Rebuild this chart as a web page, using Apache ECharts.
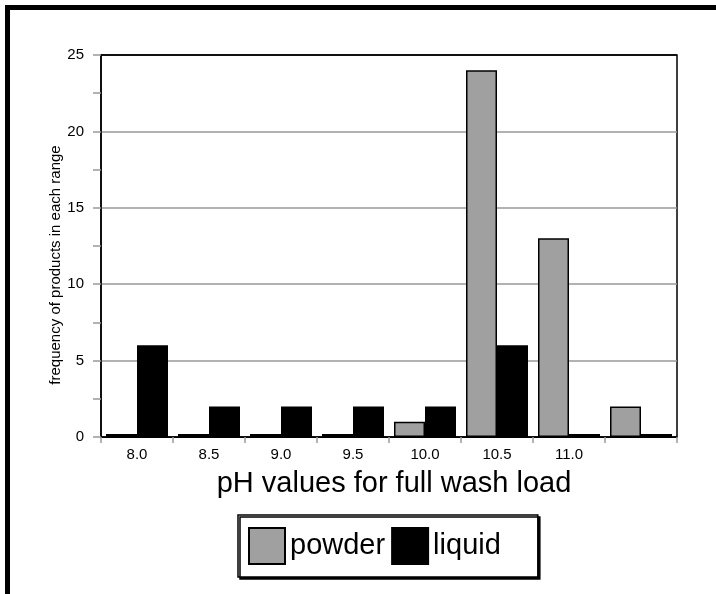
<!DOCTYPE html>
<html>
<head>
<meta charset="utf-8">
<script src="https://cdn.jsdelivr.net/npm/echarts@6/dist/echarts.min.js"></script>
<style>
  html, body { margin: 0; padding: 0; background: #fff; overflow: hidden; }
  .frame { position: absolute; left: 5px; top: 5px; width: 800px; height: 700px; border: 5px solid #000; }
  #chart { position: absolute; left: 0; top: 0; width: 716px; height: 594px; }
</style>
</head>
<body>
<div class="frame"></div>
<div id="chart"></div>
<script>
// pH ranges (last bin has no label in the original)
var categories = ['8.0', '8.5', '9.0', '9.5', '10.0', '10.5', '11.0', ''];
var powder = [0, 0, 0, 0, 1, 24, 13, 2];
var liquid = [6, 2, 2, 2, 2, 6, 0, 0];

var font = 'Liberation Sans, Arial, sans-serif';
var chart = echarts.init(document.getElementById('chart'));

var option = {
    animation: false,
    grid: {
        left: 101, top: 55, right: 39, bottom: 157,
        show: true,
        borderColor: '#000',
        borderWidth: 1.5
    },
    legend: {
        left: 238,
        top: 515,
        orient: 'horizontal',
        data: ['powder', 'liquid'],
        icon: 'rect',
        itemWidth: 36,
        itemHeight: 36,
        itemGap: 6,
        padding: [12, 37, 12, 10],
        backgroundColor: '#fff',
        borderColor: '#000',
        borderWidth: 1.5,
        shadowColor: '#000',
        shadowOffsetX: 2,
        shadowOffsetY: 2,
        shadowBlur: 0,
        textStyle: { fontFamily: font, fontSize: 29, color: '#000' }
    },
    xAxis: {
        type: 'category',
        data: categories,
        name: 'pH values for full wash load',
        nameLocation: 'middle',
        nameGap: 32,
        nameTextStyle: { fontFamily: font, fontSize: 29, color: '#000', padding: [0, 0, 0, 10] },
        axisLine: { lineStyle: { color: '#000', width: 1 } },
        axisTick: { show: true, length: 6, lineStyle: { color: '#999', width: 1.5 } },
        axisLabel: { fontFamily: font, fontSize: 15, color: '#000', margin: 10 },
        splitLine: { show: false }
    },
    yAxis: {
        type: 'value',
        min: 0,
        max: 25,
        interval: 5,
        name: 'frequency of products in each range',
        nameLocation: 'middle',
        nameMoveOverlap: false,
        nameGap: 38,
        nameTextStyle: { fontFamily: font, fontSize: 15, color: '#000', padding: [0, 38, 0, 0] },
        axisLine: { show: true, lineStyle: { color: '#000', width: 1.5 } },
        axisTick: { show: true, length: 8, lineStyle: { color: '#999', width: 1.5 } },
        minorTick: { show: true, splitNumber: 2, length: 8, lineStyle: { color: '#999', width: 1.5 } },
        axisLabel: { fontFamily: font, fontSize: 15, color: '#000', margin: 17 },
        splitLine: { show: true, lineStyle: { color: ['#000', '#999', '#999', '#999', '#999', '#000'], width: 1.5 } }
    },
    series: [
        {
            name: 'powder',
            type: 'bar',
            data: powder,
            barWidth: 31,
            barGap: '0%',
            barMinHeight: 3,
            itemStyle: { color: '#a0a0a0', borderColor: '#000', borderWidth: 1.5 }
        },
        {
            name: 'liquid',
            type: 'bar',
            data: liquid,
            barWidth: 31,
            barGap: '0%',
            barMinHeight: 3,
            itemStyle: { color: '#000', borderColor: '#000', borderWidth: 1.5 }
        }
    ]
};
chart.setOption(option);
</script>
</body>
</html>
